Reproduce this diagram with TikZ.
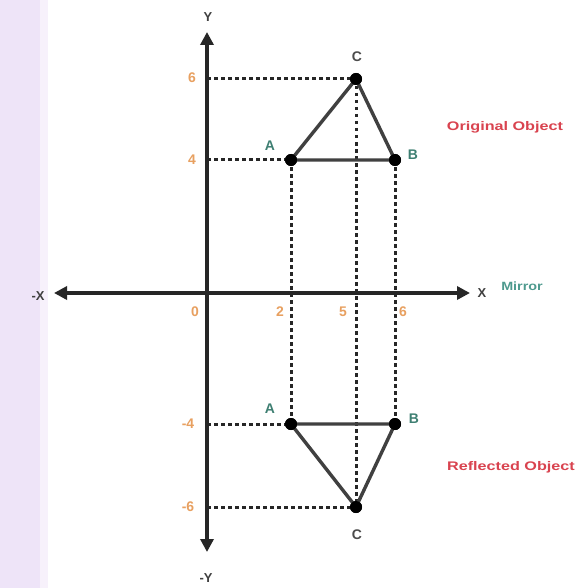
\documentclass[tikz,border=0pt]{standalone}
\usepackage{fontspec}
\setmainfont{Liberation Sans}
\usetikzlibrary{arrows.meta}
\definecolor{lav}{HTML}{EEE4F8}
\definecolor{num}{HTML}{E8A060}
\definecolor{lbl}{HTML}{3E7F72}
\definecolor{red1}{HTML}{D9434F}
\definecolor{mir}{HTML}{4E9A8E}
\begin{document}
\begin{tikzpicture}[x=1bp,y=-1bp,
  axis/.style={line width=4bp,draw=black!85,-{Triangle[length=13bp,width=13bp]}},
  guide/.style={draw=black!85,line width=3bp,dash pattern=on 3.5bp off 3.5bp},
  edge/.style={draw=black!75,line width=3.4bp},
  dot/.style={circle,fill=black,inner sep=0pt,minimum size=12bp},
  vlbl/.style={font=\bfseries\fontsize{14}{15}\selectfont,text=lbl},
  clbl/.style={font=\bfseries\fontsize{14}{15}\selectfont,text=black!70},
  nlbl/.style={font=\bfseries\fontsize{14}{15}\selectfont,text=num},
  tlbl/.style={font=\bfseries\fontsize{13}{15}\selectfont},
  title/.style={font=\bfseries\fontsize{12.5}{14}\selectfont,text=red1,xscale=1.3,transform shape}]
\useasboundingbox (0,0) rectangle (582,588);
\fill[white] (0,0) rectangle (582,588);
\fill[lav] (0,0) rectangle (40,588);
\fill[lav!50] (40,0) rectangle (48,588);
% points
\node[dot] (C1) at (356,79) {};
\node[dot] (A1) at (291,160) {};
\node[dot] (B1) at (395,160) {};
\node[dot] (A2) at (291,424) {};
\node[dot] (B2) at (395,424) {};
\node[dot] (C2) at (356,507) {};
\coordinate (yC1) at (207,79);
\coordinate (yA1) at (207,160);
\coordinate (yA2) at (207,424);
\coordinate (yC2) at (207,507);
% guides
\draw[guide] (yC1) -- (C1.center);
\draw[guide] (yA1) -- (A1.center);
\draw[guide] (yA2) -- (A2.center);
\draw[guide] (yC2) -- (C2.center);
\draw[guide] (A1.center) -- (A2.center);
\draw[guide] (C1.center) -- (C2.center);
\draw[guide] (B1.center) -- (B2.center);
% axes
\coordinate (O) at (207,293);
\coordinate (ytop) at (207,32);
\coordinate (ybot) at (207,552);
\coordinate (xl) at (54,293);
\coordinate (xr) at (470,293);
\draw[axis] (O) -- (ytop);
\draw[axis] (O) -- (ybot);
\draw[axis] (O) -- (xl);
\draw[axis] (O) -- (xr);
% triangles
\draw[edge,line join=round] (A1.center) -- (B1.center) -- (C1.center) -- cycle;
\draw[edge,line join=round] (A2.center) -- (B2.center) -- (C2.center) -- cycle;
\node[dot] at (C1) {};\node[dot] at (A1) {};\node[dot] at (B1) {};
\node[dot] at (A2) {};\node[dot] at (B2) {};\node[dot] at (C2) {};
% vertex labels
\node[clbl] (lC1) at (357,57) {C};
\node[vlbl] (lA1) at (270,146) {A};
\node[vlbl] (lB1) at (413,155) {B};
\node[vlbl] (lA2) at (270,409) {A};
\node[vlbl] (lB2) at (414,419) {B};
\node[clbl] (lC2) at (357,535) {C};
% axis labels
\node[tlbl,text=black!75] (ly) at (208,17) {Y};
\node[tlbl,text=black!75] (lny) at (206,578) {-Y};
\node[tlbl,text=black!75] (lnx) at (38,296) {-X};
\node[tlbl,text=black!75] (lx) at (482,293) {X};
\node[font=\bfseries\fontsize{12}{14}\selectfont,text=mir,xscale=1.2,transform shape] (mirror) at (522,286) {Mirror};
% numbers
\node[nlbl] (n6) at (192,78) {6};
\node[nlbl] (n4) at (192,160) {4};
\node[nlbl] (nm4) at (188,424) {-4};
\node[nlbl] (nm6) at (188,507) {-6};
\node[nlbl] (n0) at (195,312) {0};
\node[nlbl] (n2) at (280,312) {2};
\node[nlbl] (n5) at (343,312) {5};
\node[nlbl] (n6x) at (403,312) {6};
% titles
\node[title] (orig) at (505,127) {Original Object};
\node[title] (refl) at (511,467) {Reflected Object};
\end{tikzpicture}
\end{document}
